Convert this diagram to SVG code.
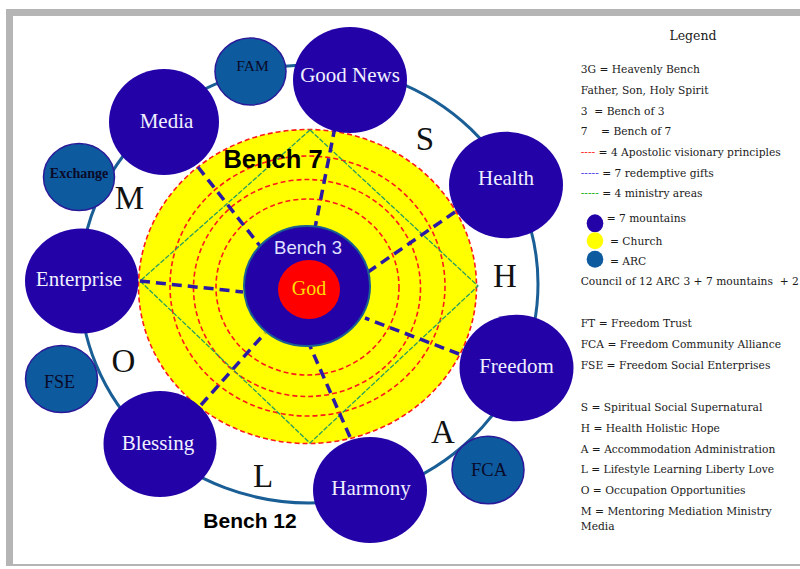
<svg xmlns="http://www.w3.org/2000/svg" width="800" height="569" viewBox="0 0 800 569">
<style>
.mtn{fill:#2302a8;}
.arc{fill:#0d5a9e;stroke:#2a1a9a;stroke-width:1.5;}
.ml{font-family:"Liberation Serif",serif;font-size:21px;fill:#f0f0ff;text-anchor:middle;}
.al{font-family:"Liberation Serif",serif;fill:#0a0a28;text-anchor:middle;}
.big{font-family:"Liberation Serif",serif;font-size:33px;fill:#111;text-anchor:middle;}
.lg{font-family:"DejaVu Serif",serif;font-size:10.7px;fill:#1a1a1a;}
.rd{fill:none;stroke:#ff1a1a;stroke-width:1.6;stroke-dasharray:5 3;}
.sp{stroke:#2a1aa6;stroke-width:3.5;stroke-dasharray:10 6;fill:none;}
</style>
<rect x="0" y="0" width="800" height="569" fill="#ffffff"/>
<rect x="6" y="9" width="800" height="557" fill="#b5b5b5"/>
<rect x="13" y="16" width="790" height="548" fill="#ffffff"/>

<g id="connectors">
<ellipse cx="309" cy="284" rx="229" ry="219" fill="none" stroke="#1a5e96" stroke-width="3"/>
</g>

<g id="church">
<ellipse cx="307.5" cy="286.5" rx="169" ry="157" fill="#ffff00"/>
<ellipse class="rd" cx="307.5" cy="286.5" rx="169" ry="157"/>
<ellipse class="rd" cx="307.5" cy="286" rx="137.5" ry="130"/>
<ellipse class="rd" cx="307" cy="288" rx="113.5" ry="108.5"/>
<ellipse class="rd" cx="307.5" cy="287" rx="91.5" ry="88"/>
<polygon points="310,130 478,286 310,443 140,281" fill="none" stroke="#2a9d5c" stroke-width="1.3" stroke-dasharray="5 1.5"/>
<text x="273" y="168" font-family="Liberation Sans,Arial,sans-serif" font-weight="bold" font-size="25.5" fill="#000" text-anchor="middle">Bench 7</text>
</g>

<g id="spokes">
<line class="sp" x1="198" y1="167" x2="260" y2="246"/>
<line class="sp" x1="335" y1="127" x2="315" y2="228"/>
<line class="sp" x1="455" y1="212" x2="368" y2="272"/>
<line class="sp" x1="459" y1="354" x2="365" y2="318"/>
<line class="sp" x1="350" y1="437" x2="310" y2="346"/>
<line class="sp" x1="201" y1="405" x2="265" y2="333"/>
<line class="sp" x1="140" y1="281" x2="243" y2="292"/>
</g>

<g id="bench3">
<ellipse cx="307" cy="286" rx="63" ry="60" fill="#2302a8" stroke="#1a6090" stroke-width="2"/>
<text x="308" y="254" font-family="Liberation Sans,Arial,sans-serif" font-size="18.5" fill="#e0e0ff" text-anchor="middle">Bench 3</text>
</g>
<g id="god">
<ellipse cx="309" cy="289.5" rx="31" ry="29.5" fill="#ff0000"/>
<text x="309" y="294.5" font-family="Liberation Serif,serif" font-size="20" fill="#ffdd00" text-anchor="middle">God</text>
</g>

<g id="good-news"><ellipse class="mtn" cx="350" cy="80" rx="57" ry="53"/><text class="ml" x="350" y="82">Good News</text></g>
<g id="fam"><ellipse class="arc" cx="250.5" cy="71.5" rx="35.5" ry="33.5"/><text class="al" x="252.5" y="71" font-size="15.5">FAM</text></g>
<g id="media"><ellipse class="mtn" cx="164" cy="122" rx="55" ry="53"/><text class="ml" x="166.5" y="127.5">Media</text></g>
<g id="exchange"><ellipse class="arc" cx="79" cy="177" rx="35.5" ry="33.5"/><text class="al" x="79" y="177.5" font-size="14" font-weight="bold">Exchange</text></g>
<g id="enterprise"><ellipse class="mtn" cx="81.7" cy="281" rx="56.7" ry="52.5"/><text class="ml" x="79" y="286">Enterprise</text></g>
<g id="fse"><ellipse class="arc" cx="61.5" cy="379" rx="36" ry="33.5"/><text class="al" x="59.5" y="387.5" font-size="18">FSE</text></g>
<g id="blessing"><ellipse class="mtn" cx="160" cy="444" rx="56.5" ry="53"/><text class="ml" x="158" y="450">Blessing</text></g>
<g id="harmony"><ellipse class="mtn" cx="370" cy="490" rx="57" ry="53"/><text class="ml" x="371" y="494.5">Harmony</text></g>
<g id="fca"><ellipse class="arc" cx="488" cy="470" rx="36" ry="33.7"/><text class="al" x="489" y="475.5" font-size="18.5">FCA</text></g>
<g id="freedom"><ellipse class="mtn" cx="516.5" cy="368" rx="57" ry="53.3"/><text class="ml" x="516.5" y="372.5">Freedom</text></g>
<g id="health"><ellipse class="mtn" cx="506" cy="185" rx="57" ry="53.3"/><text class="ml" x="506" y="185">Health</text></g>

<g id="letters">
<text class="big" x="425" y="150">S</text>
<text class="big" x="505" y="286.5">H</text>
<text class="big" x="443" y="443">A</text>
<text class="big" x="263" y="486.5">L</text>
<text class="big" x="123.5" y="371.5">O</text>
<text class="big" x="129.5" y="208.5">M</text>
</g>
<text x="250" y="528" font-family="Liberation Sans,Arial,sans-serif" font-weight="bold" font-size="21" fill="#000" text-anchor="middle">Bench 12</text>

<g id="legend">
<text x="693" y="40" font-family="DejaVu Serif,serif" font-size="12.5" fill="#1a1a1a" text-anchor="middle">Legend</text>
<text class="lg" x="580.7" y="73.3">3G = Heavenly Bench</text>
<text class="lg" x="580.7" y="93.5">Father, Son, Holy Spirit</text>
<text class="lg" x="580.7" y="114.5" xml:space="preserve">3  = Bench of 3</text>
<text class="lg" x="580.7" y="135" xml:space="preserve">7    = Bench of 7</text>
<text class="lg" x="580.7" y="156"><tspan fill="#ff2020">----</tspan> = 4 Apostolic visionary principles</text>
<text class="lg" x="580.7" y="176.5"><tspan fill="#4a3ae8">-----</tspan> = 7 redemptive gifts</text>
<text class="lg" x="580.7" y="196.5"><tspan fill="#10b010">-----</tspan> = 4 ministry areas</text>
<ellipse cx="595" cy="223.3" rx="8.3" ry="9" fill="#2302a8"/>
<text class="lg" x="606.7" y="221.7">= 7 mountains</text>
<ellipse cx="595" cy="240.7" rx="8.3" ry="8.5" fill="#ffff00"/>
<text class="lg" x="610" y="245">= Church</text>
<ellipse cx="595" cy="259.3" rx="8.3" ry="8.5" fill="#0d5a9e"/>
<text class="lg" x="610" y="265">= ARC</text>
<text class="lg" x="580.7" y="285" xml:space="preserve">Council of 12 ARC 3 + 7 mountains  + 2</text>
<text class="lg" x="580.7" y="327.3">FT = Freedom Trust</text>
<text class="lg" x="580.7" y="348.3">FCA = Freedom Community Alliance</text>
<text class="lg" x="580.7" y="369">FSE = Freedom Social Enterprises</text>
<text class="lg" x="580.7" y="411">S = Spiritual Social Supernatural</text>
<text class="lg" x="580.7" y="431.7">H = Health Holistic Hope</text>
<text class="lg" x="580.7" y="452.7">A = Accommodation Administration</text>
<text class="lg" x="580.7" y="473.3">L = Lifestyle Learning Liberty Love</text>
<text class="lg" x="580.7" y="494">O = Occupation Opportunities</text>
<text class="lg" x="580.7" y="515">M = Mentoring Mediation Ministry</text>
<text class="lg" x="580.7" y="530">Media</text>
</g>
</svg>
